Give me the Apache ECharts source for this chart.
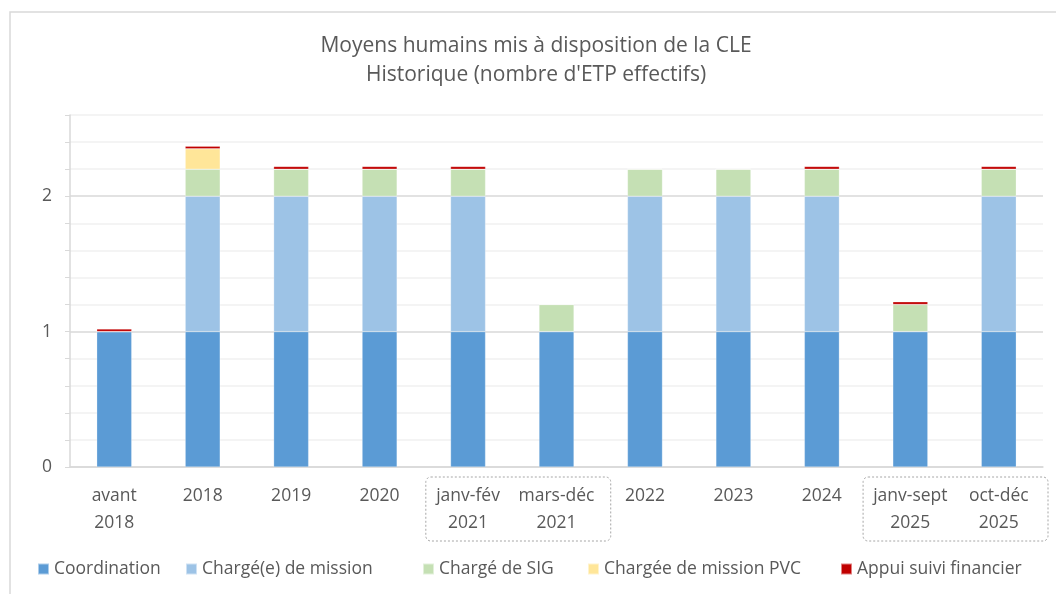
<!DOCTYPE html>
<html>
<head>
<meta charset="utf-8">
<script src="https://cdn.jsdelivr.net/npm/echarts@6/dist/echarts.min.js"></script>
<style>
  html, body { margin: 0; padding: 0; background: #fff; }
  #chart { width: 1056px; height: 594px; }
</style>
</head>
<body>
<div id="chart"></div>
<script>
// categories (x axis)
const categories = [
  "avant\n2018", "2018", "2019", "2020", "janv-fév\n2021", "mars-déc\n2021",
  "2022", "2023", "2024", "janv-sept\n2025", "oct-déc\n2025"
];
// series names
const seriesNames = [
  "Coordination", "Chargé(e) de mission", "Chargé de SIG",
  "Chargée de mission PVC", "Appui suivi financier"
];
// ETP per role
const coordination = [1, 1, 1, 1, 1, 1, 1, 1, 1, 1, 1];
const chargeMission = [0, 1, 1, 1, 1, 0, 1, 1, 1, 0, 1];
const chargeSig = [0, 0.2, 0.2, 0.2, 0.2, 0.2, 0.2, 0.2, 0.2, 0.2, 0.2];
const chargeePvc = [0, 0.15, 0, 0, 0, 0, 0, 0, 0, 0, 0];
const appuiFinancier = [0.02, 0.02, 0.02, 0.02, 0.02, 0, 0, 0, 0.02, 0.02, 0.02];
// groups framed with a dotted box under the axis
const boxedGroups = [[4, 5], [9, 10]];

const chart = echarts.init(document.getElementById("chart"));
const font = "'Open Sans', 'Noto Sans', sans-serif";
const textColor = "#595959";
const colors = ["#5B9BD5", "#9DC3E6", "#C5E0B4", "#FFE699", "#C00000"];
const legendLeft = [32, 180, 417, 582, 835];
const boxShift = [6, 1];

function bar(name, data, color) {
  return {
    name: name,
    type: "bar",
    stack: "etp",
    data: data,
    barWidth: 35,
    itemStyle: { color: color, borderColor: "rgba(255,255,255,0.5)", borderWidth: 0.5 }
  };
}

const option = {
  animation: false,
  textStyle: { fontFamily: font },
  title: {
    text: "Moyens humains mis à disposition de la CLE\nHistorique (nombre d'ETP effectifs)",
    left: 531,
    textAlign: "center",
    top: 27,
    textStyle: { fontSize: 21, fontWeight: "normal", color: textColor, lineHeight: 29, fontFamily: font }
  },
  legend: seriesNames.map(function (n, i) {
    return {
      data: [n],
      bottom: 11,
      left: legendLeft[i],
      itemWidth: 11,
      itemHeight: 11,
      icon: "rect",
      textStyle: { fontSize: 17.5, color: textColor, fontFamily: font }
    };
  }),
  grid: { left: 70, right: 13, top: 115, bottom: 127 },
  xAxis: {
    type: "category",
    data: categories,
    axisTick: { show: false },
    axisLine: { lineStyle: { color: "#D9D9D9", width: 1.5 } },
    axisLabel: { color: textColor, fontSize: 17.5, lineHeight: 27, margin: 16, interval: 0, fontFamily: font }
  },
  yAxis: {
    type: "value",
    min: 0,
    max: 2.6,
    interval: 0.2,
    axisLine: { show: true, lineStyle: { color: "#D9D9D9", width: 1.5 } },
    axisTick: { show: true, length: 5, lineStyle: { color: "#D9D9D9" } },
    axisLabel: {
      color: textColor,
      fontSize: 17.5,
      margin: 18,
      fontFamily: font,
      formatter: function (v) {
        return Math.abs(v - Math.round(v)) < 1e-6 ? String(Math.round(v)) : "";
      }
    },
    splitLine: {
      lineStyle: { color: ["#D9D9D9", "#F0F0F0", "#F0F0F0", "#F0F0F0", "#F0F0F0"], width: 1.5 }
    }
  },
  series: [
    bar(seriesNames[0], coordination, colors[0]),
    bar(seriesNames[1], chargeMission, colors[1]),
    bar(seriesNames[2], chargeSig, colors[2]),
    bar(seriesNames[3], chargeePvc, colors[3]),
    bar(seriesNames[4], appuiFinancier, colors[4])
  ]
};

chart.setOption(option);

// frame + dotted boxes around grouped periods
function drawDecor() {
  const half = chart.convertToPixel({ xAxisIndex: 0 }, categories[1]) -
    chart.convertToPixel({ xAxisIndex: 0 }, categories[0]);
  const elements = [{
    type: "rect",
    shape: { x: 10, y: 12, width: 1060, height: 600 },
    style: { fill: "none", stroke: "#D9D9D9", lineWidth: 1.5 },
    silent: true
  }];
  boxedGroups.forEach(function (g, i) {
    const x0 = chart.convertToPixel({ xAxisIndex: 0 }, categories[g[0]]) - half / 2 - 4 + boxShift[i];
    const x1 = chart.convertToPixel({ xAxisIndex: 0 }, categories[g[1]]) + half / 2 + 4 + boxShift[i];
    elements.push({
      type: "rect",
      shape: { x: x0, y: 477, width: x1 - x0, height: 64, r: 5 },
      style: { fill: "none", stroke: "#A6A6A6", lineWidth: 1, lineDash: [2, 2] },
      silent: true
    });
  });
  chart.setOption({ graphic: elements });
}
drawDecor();
</script>
</body>
</html>
